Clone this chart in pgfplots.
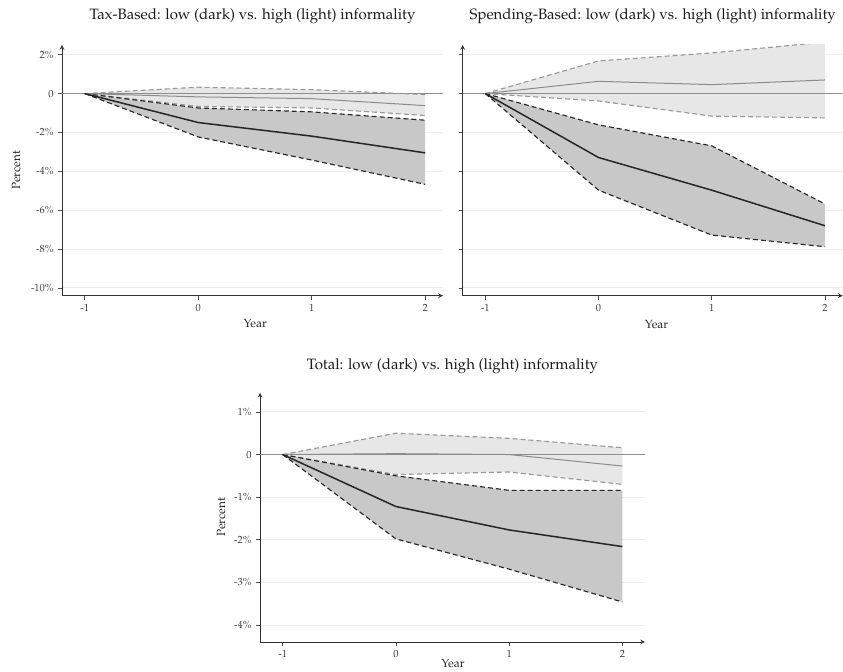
\documentclass[border=0pt]{standalone}
\usepackage[T1]{fontenc}
\usepackage{mathpazo}
\usepackage{pgfplots}
\usepackage{pgfplotstable}
\pgfplotsset{compat=1.18}
\usepgfplotslibrary{fillbetween}

\definecolor{darkband}{RGB}{200,200,200}
\definecolor{lightband}{RGB}{231,231,231}
\definecolor{ticklab}{RGB}{60,60,60}

% columns: year, dark lower, dark mean, dark upper, light lower, light mean, light upper
\pgfplotstableread{
x   dl     dm     du     ll     lm     lu
-1  0      0      0      0      0      0
0   -2.23  -1.49  -0.74  -0.66  -0.17  0.33
1   -3.42  -2.19  -0.94  -0.74  -0.26  0.20
2   -4.67  -3.05  -1.37  -1.13  -0.62  -0.05
}\taxdata
\pgfplotstableread{
x   dl     dm     du     ll     lm     lu
-1  0      0      0      0      0      0
0   -4.97  -3.29  -1.61  -0.38  0.63   1.68
1   -7.28  -4.97  -2.69  -1.16  0.46   2.09
2   -7.88  -6.80  -5.68  -1.25  0.70   2.65
}\spenddata
\pgfplotstableread{
x   dl     dm     du     ll     lm     lu
-1  0      0      0      0      0      0
0   -1.98  -1.22  -0.50  -0.47  0.02   0.50
1   -2.69  -1.77  -0.84  -0.41  0.00   0.38
2   -3.46  -2.16  -0.84  -0.70  -0.27  0.16
}\totaldata

\pgfplotsset{
  irf/.style={
    scale only axis,
    axis lines=left,
    axis line style={black!80, line width=0.7pt},
    xmin=-1.2,
    xtick={-1,0,1,2}, xticklabels={-1,0,1,2},
    tick align=outside, major tick length=3.2pt,
    tick style={black!70, line width=0.5pt},
    ymajorgrids, grid style={black!7, line width=0.7pt},
    ticklabel style={font=\fontsize{8.3}{9.5}\selectfont, text=ticklab},
    label style={font=\fontsize{9.5}{11}\selectfont, text=black!85},
    title style={font=\fontsize{12}{14}\selectfont, text=black!90, at={(axis description cs:0.5,1)}, anchor=base},
    xlabel={Year},
  },
  zeroline/.style={black!45, line width=0.6pt, forget plot},
  darkdash/.style={black!85, line width=0.9pt, dash pattern=on 4pt off 2.4pt},
  lightdash/.style={black!40, line width=0.9pt, dash pattern=on 4pt off 2.4pt},
  darkmean/.style={black!85, line width=1.2pt},
  lightmean/.style={black!45, line width=0.8pt},
}

\begin{document}
\begin{tikzpicture}

\begin{axis}[irf, at={(49.6pt,301.04pt)}, anchor=south west,
  width=304.8pt, height=200.56pt,
  xmax=2.157, ymin=-10.4, ymax=2.5,
  ytick={-10,-8,-6,-4,-2,0,2},
  yticklabels={-10\%,-8\%,-6\%,-4\%,-2\%,0,2\%},
  title={Tax-Based: low (dark) vs. high (light) informality},
  title style={yshift=14.2pt},
  ylabel={Percent},
  ylabel style={at={(axis description cs:-0.1207,0.5)}, anchor=center},
  xlabel style={at={(axis description cs:0.507,0)}, anchor=center, yshift=-22.6pt},
]
  \addplot[zeroline] coordinates {(-1.2,0) (2.3,0)};
  \addplot[lightdash, name path=lu] table[x=x,y=lu] {\taxdata};
  \addplot[lightdash, name path=ll] table[x=x,y=ll] {\taxdata};
  \addplot[darkdash, name path=du] table[x=x,y=du] {\taxdata};
  \addplot[darkdash, name path=dl] table[x=x,y=dl] {\taxdata};
  \addplot[lightband, draw=none] fill between[of=lu and ll];
  \addplot[darkband, draw=none] fill between[of=du and dl];
  \addplot[lightmean] table[x=x,y=lm] {\taxdata};
  \addplot[darkmean] table[x=x,y=dm] {\taxdata};
\end{axis}

\begin{axis}[irf, at={(370.16pt,301.04pt)}, anchor=south west,
  width=304pt, height=200.56pt,
  xmax=2.157, ymin=-10.4, ymax=2.5,
  ytick={-10,-8,-6,-4,-2,0,2},
  yticklabels={},
  title={Spending-Based: low (dark) vs. high (light) informality},
  title style={yshift=14.2pt},
  xlabel style={at={(axis description cs:0.51,0)}, anchor=center, yshift=-23.4pt},
]
  \addplot[zeroline] coordinates {(-1.2,0) (2.3,0)};
  \addplot[lightdash, name path=lu] table[x=x,y=lu] {\spenddata};
  \addplot[lightdash, name path=ll] table[x=x,y=ll] {\spenddata};
  \addplot[darkdash, name path=du] table[x=x,y=du] {\spenddata};
  \addplot[darkdash, name path=dl] table[x=x,y=dl] {\spenddata};
  \addplot[lightband, draw=none] fill between[of=lu and ll];
  \addplot[darkband, draw=none] fill between[of=du and dl];
  \addplot[lightmean] table[x=x,y=lm] {\spenddata};
  \addplot[darkmean] table[x=x,y=dm] {\spenddata};
\end{axis}

\begin{axis}[irf, at={(208pt,24pt)}, anchor=south west,
  width=308pt, height=199.4pt,
  xmax=2.2, ymin=-4.4, ymax=1.45,
  ytick={-4,-3,-2,-1,0,1},
  yticklabels={-4\%,-3\%,-2\%,-1\%,0,1\%},
  title={Total: low (dark) vs. high (light) informality},
  title style={yshift=12.3pt},
  ylabel={Percent},
  ylabel style={at={(axis description cs:-0.101,0.5)}, anchor=center},
  xlabel style={at={(axis description cs:0.501,0)}, anchor=center, yshift=-17.5pt},
]
  \addplot[zeroline] coordinates {(-1.2,0) (2.3,0)};
  \addplot[lightdash, name path=lu] table[x=x,y=lu] {\totaldata};
  \addplot[lightdash, name path=ll] table[x=x,y=ll] {\totaldata};
  \addplot[darkdash, name path=du] table[x=x,y=du] {\totaldata};
  \addplot[darkdash, name path=dl] table[x=x,y=dl] {\totaldata};
  \addplot[lightband, draw=none] fill between[of=lu and ll];
  \addplot[darkband, draw=none] fill between[of=du and dl];
  \addplot[lightmean] table[x=x,y=lm] {\totaldata};
  \addplot[darkmean] table[x=x,y=dm] {\totaldata};
\end{axis}
\pgfresetboundingbox
\path (0pt,0pt) rectangle (674.4pt,537.6pt);
\end{tikzpicture}
\end{document}
